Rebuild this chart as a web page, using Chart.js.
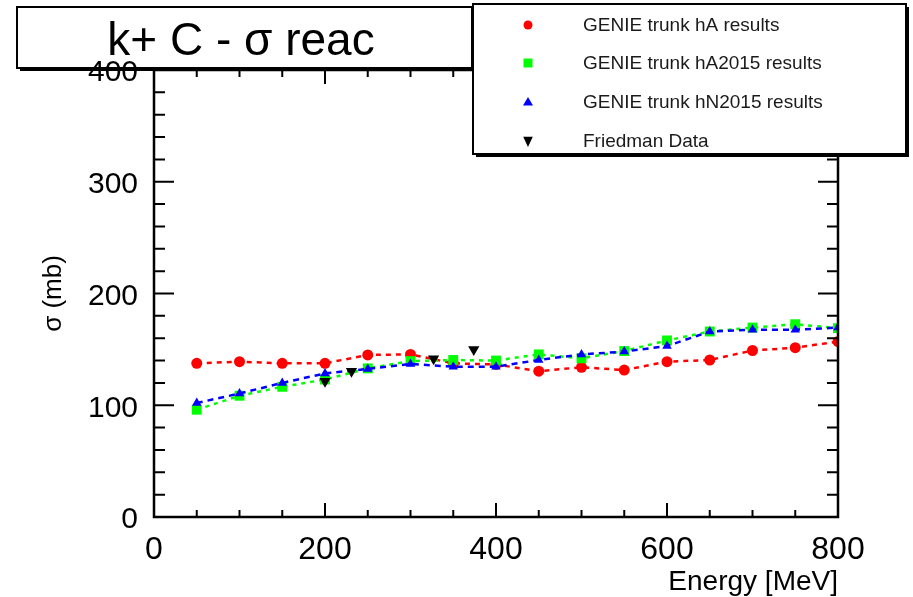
<!DOCTYPE html>
<html>
<head>
<meta charset="utf-8">
<script src="https://cdn.jsdelivr.net/npm/chart.js@4"></script>
<style>
  body { margin: 0; background: #fff; }
  #wrap { width: 913px; height: 597px; }
</style>
</head>
<body>
<div id="wrap"><canvas id="xsecChart" width="913" height="597"></canvas></div>
<script>
// energies (MeV) of the GENIE points
const energy = [50, 100, 150, 200, 250, 300, 350, 400, 450, 500, 550, 600, 650, 700, 750, 800];
const hA = [137.5, 139, 137.5, 137.5, 145, 145.5, 137.5, 136.5, 130.5, 134, 131.5, 139, 140.5, 149, 151.5, 157];
const hA2015 = [96, 108.5, 116.5, 123, 133, 139.5, 140.5, 140, 145.5, 142, 148.5, 158, 166, 169.5, 172.5, 169];
const hN2015 = [102, 110.5, 120, 128.5, 132.5, 137, 134.5, 134.5, 140.5, 145.5, 148, 153, 166, 167.5, 167.5, 169.5];
// Friedman measurements
const friedE = [200, 231, 327, 374];
const friedXs = [121.5, 130.5, 141.5, 150];

const xTicks = [0, 200, 400, 600, 800];
const yTicks = [0, 100, 200, 300, 400];

const FONT = '"Liberation Sans", Arial, Helvetica, sans-serif';

function pts(xs, ys) {
    return xs.map((x, i) => ({x: x, y: ys[i]}));
}

// legend entries, drawn by the plugin below
const legendItems = [
    {text: 'GENIE trunk hA results', style: 'circle', color: '#ff0000'},
    {text: 'GENIE trunk hA2015 results', style: 'rect', color: '#00ff00'},
    {text: 'GENIE trunk hN2015 results', style: 'triangle', color: '#0000ff'},
    {text: 'Friedman Data', style: 'down', color: '#000000'}
];

function marker(ctx, style, x, y, s, color) {
    ctx.fillStyle = color;
    ctx.beginPath();
    if (style === 'circle') {
        ctx.arc(x, y, s, 0, Math.PI * 2);
    } else if (style === 'rect') {
        ctx.rect(x - s, y - s, 2 * s, 2 * s);
    } else if (style === 'triangle') {
        ctx.moveTo(x, y - s);
        ctx.lineTo(x + s, y + s * 0.7);
        ctx.lineTo(x - s, y + s * 0.7);
    } else {
        ctx.moveTo(x, y + s);
        ctx.lineTo(x + s * 0.8, y - s * 0.7);
        ctx.lineTo(x - s * 0.8, y - s * 0.7);
    }
    ctx.closePath();
    ctx.fill();
}

function shadowBox(ctx, x, y, w, h) {
    ctx.fillStyle = '#000';
    ctx.fillRect(x + 3, y + 3, w, h);
    ctx.fillStyle = '#fff';
    ctx.fillRect(x, y, w, h);
    ctx.strokeStyle = '#000';
    ctx.lineWidth = 2;
    ctx.strokeRect(x, y, w, h);
}

const framePlugin = {
    id: 'frame',
    beforeDraw(chart) {
        // title box sits under the tick labels
        const ctx = chart.ctx;
        ctx.save();
        shadowBox(ctx, 17, 7, 455, 61);
        ctx.fillStyle = '#000';
        ctx.font = '46px ' + FONT;
        ctx.textAlign = 'center';
        ctx.textBaseline = 'alphabetic';
        ctx.fillText('k+ C - \u03c3 reac', 241, 55);
        ctx.restore();
    },
    afterDatasetsDraw(chart) {
        const ctx = chart.ctx;
        const a = chart.chartArea;
        const xs = chart.scales.x, ys = chart.scales.y;
        ctx.save();
        ctx.strokeStyle = '#000';
        ctx.lineWidth = 2.5;
        ctx.strokeRect(a.left, a.top, a.right - a.left, a.bottom - a.top);
        ctx.lineWidth = 2;
        ctx.beginPath();
        for (let v = 0; v <= 800; v += 50) {
            const px = xs.getPixelForValue(v);
            const len = v % 200 === 0 ? 14 : 7;
            ctx.moveTo(px, a.bottom); ctx.lineTo(px, a.bottom - len);
            ctx.moveTo(px, a.top); ctx.lineTo(px, a.top + len);
        }
        for (let v = 0; v <= 400; v += 20) {
            const py = ys.getPixelForValue(v);
            const len = v % 100 === 0 ? 20 : 11;
            ctx.moveTo(a.left, py); ctx.lineTo(a.left + len, py);
            ctx.moveTo(a.right, py); ctx.lineTo(a.right - len, py);
        }
        ctx.stroke();
        ctx.restore();
    },
    afterDraw(chart) {
        const ctx = chart.ctx;
        ctx.save();
        // legend box
        shadowBox(ctx, 473, 4, 433, 150);
        ctx.font = '19px ' + FONT;
        ctx.textAlign = 'left';
        ctx.textBaseline = 'middle';
        const rows = [25, 63, 102, 141];
        legendItems.forEach((it, i) => {
            const s = it.style === 'circle' ? 4.5 : it.style === 'rect' ? 4.5 : it.style === 'triangle' ? 5 : 6;
            marker(ctx, it.style, 528, rows[i], s, it.color);
            ctx.fillStyle = '#1a1a1a';
            ctx.fillText(it.text, 583, rows[i] + 1);
        });
        ctx.restore();
    }
};

const data = {
    datasets: [
        {
            label: 'GENIE trunk hA results',
            data: pts(energy, hA),
            showLine: true,
            borderColor: '#ff0000',
            backgroundColor: '#ff0000',
            borderWidth: 2.5,
            borderDash: [5, 5],
            pointStyle: 'circle',
            pointRadius: 5.5,
            pointBorderWidth: 0,
            order: 4
        },
        {
            label: 'GENIE trunk hA2015 results',
            data: pts(energy, hA2015),
            showLine: true,
            borderColor: '#00ff00',
            backgroundColor: '#00ff00',
            borderWidth: 2.5,
            borderDash: [4, 5],
            pointStyle: 'rect',
            pointRadius: 7,
            pointBorderWidth: 0,
            order: 3
        },
        {
            label: 'GENIE trunk hN2015 results',
            data: pts(energy, hN2015),
            showLine: true,
            borderColor: '#0000ff',
            backgroundColor: '#0000ff',
            borderWidth: 2.5,
            borderDash: [6, 5],
            pointStyle: 'triangle',
            pointRadius: 5.5,
            pointBorderWidth: 0,
            order: 2
        },
        {
            label: 'Friedman Data',
            data: pts(friedE, friedXs),
            showLine: false,
            borderColor: '#000000',
            backgroundColor: '#000000',
            pointStyle: 'triangle',
            rotation: 180,
            pointRadius: 6.5,
            pointBorderWidth: 0,
            order: 1
        }
    ]
};

const config = {
    type: 'scatter',
    data: data,
    options: {
        responsive: false,
        animation: false,
        layout: {
            padding: {left: 0, right: 75, top: 70, bottom: 0}
        },
        plugins: {
            legend: { display: false },
            title: { display: false },
            tooltip: { enabled: false }
        },
        scales: {
            x: {
                type: 'linear',
                min: 0,
                max: 800,
                afterBuildTicks: function(scale) {
                    scale.ticks = xTicks.map(v => ({value: v}));
                },
                afterFit: function(scale) {
                    scale.height = 80;
                },
                grid: { display: false, drawTicks: false },
                border: { display: false },
                ticks: {
                    padding: 14,
                    color: '#000',
                    maxRotation: 0,
                    font: { family: FONT, size: 32 }
                },
                title: {
                    display: true,
                    text: 'Energy [MeV]',
                    align: 'end',
                    color: '#000',
                    padding: { top: 0, bottom: 1 },
                    font: { family: FONT, size: 28, lineHeight: 1 }
                }
            },
            y: {
                type: 'linear',
                min: 0,
                max: 400,
                afterBuildTicks: function(scale) {
                    scale.ticks = yTicks.map(v => ({value: v}));
                },
                afterFit: function(scale) {
                    scale.width = 154;
                },
                grid: { display: false, drawTicks: false },
                border: { display: false },
                ticks: {
                    padding: 16,
                    labelOffset: 3,
                    color: '#000',
                    font: { family: FONT, size: 30 }
                },
                title: {
                    display: true,
                    text: '\u03c3 (mb)',
                    color: '#000',
                    padding: { top: 41, bottom: 0 },
                    font: { family: FONT, size: 26, lineHeight: 1 }
                }
            }
        }
    },
    plugins: [framePlugin]
};

new Chart(document.getElementById('xsecChart').getContext('2d'), config);
</script>
</body>
</html>
